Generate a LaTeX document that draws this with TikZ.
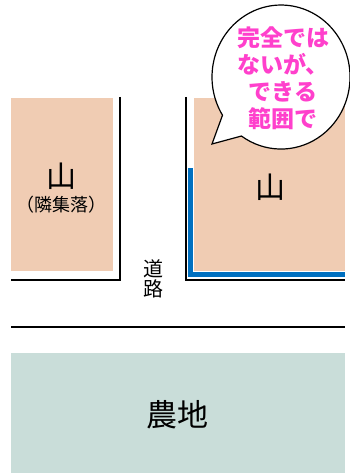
\documentclass[tikz,border=0pt]{standalone}
\usepackage{fontspec}
\newfontfamily\jp{Noto Sans CJK JP}
\definecolor{peach}{HTML}{F0CCB3}
\definecolor{farm}{HTML}{C9DDD9}
\definecolor{water}{HTML}{0070C0}
\definecolor{pink}{HTML}{FF40CC}
\tikzset{
  border/.style={line width=1.8pt, black},
  lbl/.style={inner sep=0pt, text=black, align=center},
}
\begin{document}
\begin{tikzpicture}[x=1pt,y=-1pt]
\useasboundingbox (0,0) rectangle (350,473);
% land blocks
\fill[peach] (11,98) rectangle (113,271);
\fill[peach] (194,98) rectangle (345,271);
\fill[farm] (11,353) rectangle (345,473);
% waterway (blue)
\draw[water, line width=5pt] (190.5,168) -- (190.5,274.5) -- (345,274.5);
% boundary lines
\draw[border] (120,97) -- (120,280) -- (11,280);
\draw[border] (186,97) -- (186,280) -- (345,280);
\draw[border] (11,327) -- (345,327);
% speech bubble
\coordinate (tip) at (212,144);
\draw[line width=1.2pt, fill=white] (tip) -- (222.5,115.2)
  arc[start angle=148, end angle=485, x radius=69, y radius=72] -- cycle;
\node[lbl, font=\jp\bfseries\fontsize{23}{27}\selectfont, text=pink] (bubble) at (283,78)
  {完全では\\ないが、\\できる\\範囲で};
% labels
\node[lbl, font=\jp\fontsize{30}{30}\selectfont] (yamaL) at (61,176) {山};
\node[lbl, font=\jp\fontsize{18}{18}\selectfont] (rinshu) at (61.5,205) {（隣集落）};
\node[lbl, font=\jp\fontsize{30}{30}\selectfont] (yamaR) at (270,187) {山};
\node[lbl, font=\jp\fontsize{20}{20}\selectfont] (road) at (153,279) {道\\路};
\node[lbl, font=\jp\fontsize{31}{31}\selectfont] (farmland) at (177.5,415) {農地};
\end{tikzpicture}
\end{document}
